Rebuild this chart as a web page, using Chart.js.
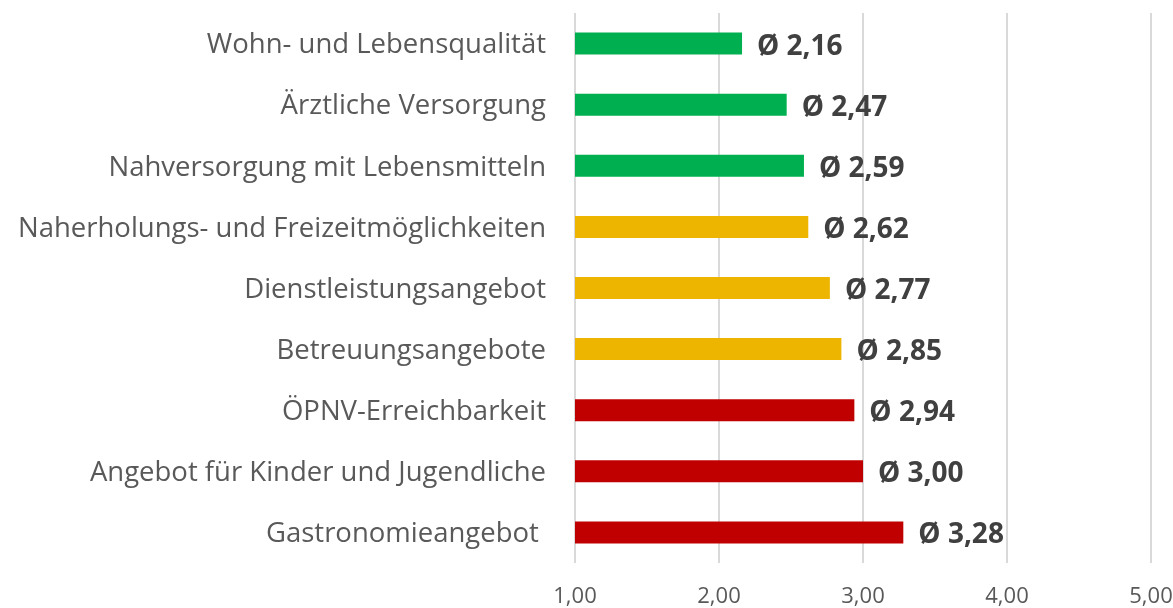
<!DOCTYPE html>
<html>
<head>
<meta charset="utf-8">
<script src="https://cdn.jsdelivr.net/npm/chart.js@4"></script>
<style>
  html, body { margin: 0; padding: 0; background: #fff; }
  #wrap { width: 1173px; height: 608px; }
</style>
</head>
<body>
<div id="wrap"><canvas id="graficoBalken"></canvas></div>
<script>
// Daten
const kategorien = [
    'Wohn- und Lebensqualität',
    'Ärztliche Versorgung',
    'Nahversorgung mit Lebensmitteln',
    'Naherholungs- und Freizeitmöglichkeiten',
    'Dienstleistungsangebot',
    'Betreuungsangebote',
    'ÖPNV-Erreichbarkeit',
    'Angebot für Kinder und Jugendliche',
    'Gastronomieangebot '
];
const mittelwerte = [2.16, 2.47, 2.59, 2.62, 2.77, 2.85, 2.94, 3.00, 3.28];
const achsenWerte = [1, 2, 3, 4, 5];

const GRUEN = '#00B050', GELB = '#EDB500', ROT = '#C00000';
const farben = mittelwerte.map(v => v < 2.6 ? GRUEN : (v < 2.9 ? GELB : ROT));

const komma = v => v.toFixed(2).replace('.', ',');

// Werte rechts neben den Balken
const wertBeschriftung = {
    id: 'wertBeschriftung',
    afterDatasetsDraw(chart) {
        const ctx = chart.ctx;
        const meta = chart.getDatasetMeta(0);
        ctx.save();
        ctx.font = 'bold 28px "Open Sans"';
        ctx.fillStyle = '#404040';
        ctx.textAlign = 'left';
        ctx.textBaseline = 'middle';
        meta.data.forEach((bar, i) => {
            ctx.fillText('Ø ' + komma(mittelwerte[i]), bar.x + 15, bar.y + 3);
        });
        ctx.restore();
    }
};

const ohnePadding = axis => {
    axis.paddingTop = 0;
    axis.paddingBottom = 0;
    axis.paddingLeft = 0;
    axis.paddingRight = 0;
};

const ctxBalken = document.getElementById('graficoBalken').getContext('2d');
const graficoBalken = new Chart(ctxBalken, {
    type: 'bar',
    data: {
        labels: kategorien,
        datasets: [{
            label: 'Mittelwert',
            data: mittelwerte.map(v => [1, v]),
            backgroundColor: farben,
            borderWidth: 0,
            barPercentage: 0.72,
            categoryPercentage: 0.5
        }]
    },
    options: {
        indexAxis: 'y',
        responsive: true,
        maintainAspectRatio: false,
        animation: false,
        layout: { padding: { top: 13, right: 22, left: 0, bottom: 0 } },
        plugins: {
            legend: { display: false },
            tooltip: { enabled: false }
        },
        scales: {
            x: {
                min: 1,
                max: 5,
                afterBuildTicks(axis) {
                    axis.ticks = achsenWerte.map(v => ({ value: v }));
                },
                afterFit(axis) { axis.height = 45; ohnePadding(axis); },
                grid: { color: '#D9D9D9', lineWidth: 2, drawTicks: false },
                border: { display: false },
                ticks: {
                    callback: v => komma(v),
                    color: '#595959',
                    font: { family: '"Open Sans"', size: 22 },
                    padding: 21
                }
            },
            y: {
                afterFit(axis) { axis.width = 575; ohnePadding(axis); },
                grid: { display: false },
                border: { display: false },
                ticks: {
                    color: '#595959',
                    font: { family: '"Open Sans"', size: 27.5 },
                    padding: 21,
                    labelOffset: 2
                }
            }
        }
    },
    plugins: [wertBeschriftung]
});
</script>
</body>
</html>
